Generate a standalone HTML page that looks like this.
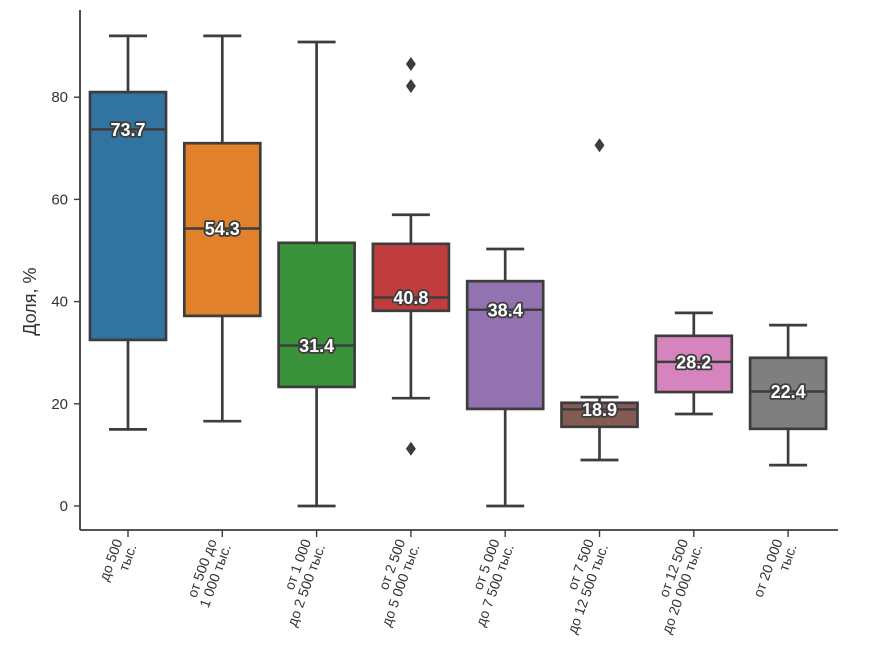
<!DOCTYPE html>
<html><head><meta charset="utf-8"><style>
html,body{margin:0;padding:0;background:#fff;}
svg{display:block;font-family:"Liberation Sans",sans-serif;}
</style></head><body>
<svg id="chart" width="873" height="651" viewBox="0 0 873 651" xmlns="http://www.w3.org/2000/svg"></svg>
<script>
const categories = [["до 500","тыс."],["от 500 до","1 000 тыс."],["от 1 000","до 2 500 тыс."],["от 2 500","до 5 000 тыс."],["от 5 000","до 7 500 тыс."],["от 7 500","до 12 500 тыс."],["от 12 500","до 20 000 тыс."],["от 20 000","тыс."]];
const whiskerLow = [15, 16.6, 0, 21.1, 0, 9, 18, 8];
const q1 = [32.5, 37.2, 23.3, 38.2, 19, 15.5, 22.3, 15.1];
const medians = [73.7, 54.3, 31.4, 40.8, 38.4, 18.9, 28.2, 22.4];
const q3 = [81, 71, 51.5, 51.3, 44, 20.2, 33.3, 29];
const whiskerHigh = [92, 92, 90.8, 57, 50.3, 21.3, 37.8, 35.4];
const outliers = [[], [], [], [86.5, 82.2, 11.2], [], [70.6], [], []];
const yTicks = [0, 20, 40, 60, 80];
const colors = ["#3274a1","#e1812c","#3a923a","#c03d3e","#9372b2","#845b53","#d684bd","#7f7f7f"];

const svg = document.getElementById('chart');
const NS = "http://www.w3.org/2000/svg";
const L = 80, R = 838, B = 530, T = 10;
const y = v => 506 - v * 5.11;
const x = i => 128 + i * 94.3;
const bw = 76, line = "#3d3d3d";
function mk(tag, attrs, parent) {
  const e = document.createElementNS(NS, tag);
  for (const k in attrs) e.setAttribute(k, attrs[k]);
  (parent || svg).appendChild(e);
  return e;
}
const ax = mk('line', {x1:L, y1:T, x2:L, y2:B, stroke:line, 'stroke-width':1.8});


const bx = mk('line', {x1:L, y1:B, x2:R, y2:B, stroke:line, 'stroke-width':1.8});


yTicks.forEach(t => {
  mk('line', {x1:L-6, y1:y(t), x2:L, y2:y(t), stroke:line, 'stroke-width':1.4});
  const tx = mk('text', {x:L-12, y:y(t)+5, 'text-anchor':'end', 'font-size':15, fill:'#333'});
  tx.textContent = t;
  
  
});
const yl = mk('text', {x:0, y:0, transform:'translate(36,' + y(40) + ') rotate(-90)', 'text-anchor':'middle', 'font-size':18, fill:'#333'});
yl.textContent = 'Доля, %';



categories.forEach((c, i) => {
  const cx = x(i);
  const g = mk('g', {});
  
  
  mk('line', {x1:cx, y1:y(whiskerHigh[i]), x2:cx, y2:y(q3[i]), stroke:line, 'stroke-width':2.7}, g);
  mk('line', {x1:cx, y1:y(q1[i]), x2:cx, y2:y(whiskerLow[i]), stroke:line, 'stroke-width':2.7}, g);
  mk('line', {x1:cx-19, y1:y(whiskerHigh[i]), x2:cx+19, y2:y(whiskerHigh[i]), stroke:line, 'stroke-width':2.7}, g);
  mk('line', {x1:cx-19, y1:y(whiskerLow[i]), x2:cx+19, y2:y(whiskerLow[i]), stroke:line, 'stroke-width':2.7}, g);
  mk('rect', {x:cx-bw/2, y:y(q3[i]), width:bw, height:y(q1[i])-y(q3[i]), fill:colors[i], stroke:line, 'stroke-width':2.7}, g);
  mk('line', {x1:cx-bw/2, y1:y(medians[i]), x2:cx+bw/2, y2:y(medians[i]), stroke:line, 'stroke-width':2.5}, g);
  outliers[i].forEach(o => {
    const d = mk('path', {d:`M${cx},${y(o)-7} L${cx+5},${y(o)} L${cx},${y(o)+7} L${cx-5},${y(o)} Z`, fill:line}, g);
    
    
  });
  const ml = mk('text', {x:cx, y:y(medians[i])+6.5, 'text-anchor':'middle', 'font-size':18, 'font-weight':'bold', fill:'#fff', stroke:'#3d3d3d', 'stroke-width':3.5, 'paint-order':'stroke', 'stroke-linejoin':'round'}, g);
  ml.textContent = medians[i].toFixed(1);
  
  
  mk('line', {x1:cx, y1:B, x2:cx, y2:B+7, stroke:line, 'stroke-width':1.4});
  const lt = mk('text', {transform:`translate(${cx+5},${B+15}) rotate(-70)`, 'text-anchor':'end', 'font-size':14, fill:'#333'});
  
  
  c.forEach((s, k) => {
    const ts = mk('tspan', {x:0, y: (k === 0 ? -15 : 0) + 4}, lt);
    ts.textContent = s;
  });
});
</script>
</body></html>
